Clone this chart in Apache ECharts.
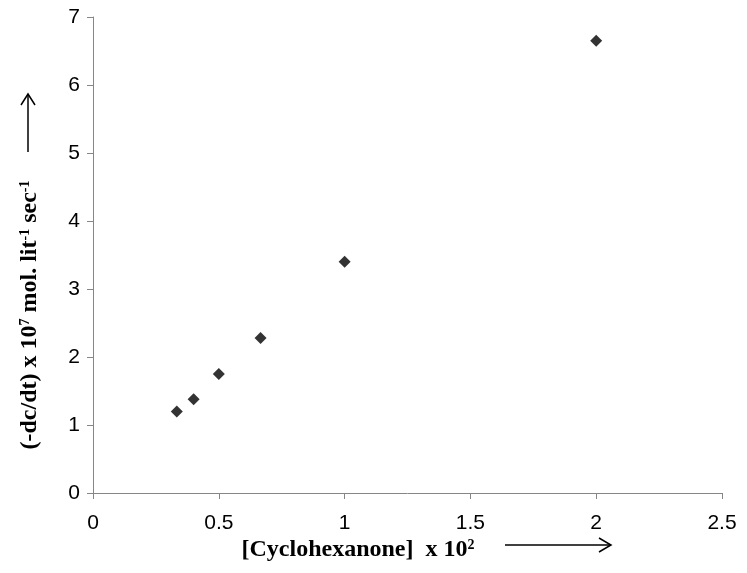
<!DOCTYPE html>
<html>
<head>
<meta charset="utf-8">
<script src="https://cdn.jsdelivr.net/npm/echarts@6/dist/echarts.min.js"></script>
<style>
  html, body { margin: 0; padding: 0; background: #fff; }
  #chart { width: 747px; height: 573px; }
</style>
</head>
<body>
<div id="chart"></div>
<script>
// concentration of cyclohexanone (x 10^2)
const conc = [0.333, 0.4, 0.5, 0.666, 1.0, 2.0]
// rate (-dc/dt) x 10^7
const rate = [1.2, 1.38, 1.75, 2.28, 3.4, 6.65]
const xTicks = [0, 0.5, 1, 1.5, 2, 2.5]
const yTicks = [0, 1, 2, 3, 4, 5, 6, 7]

const chart = echarts.init(document.getElementById('chart'))

const axisColor = '#868686'
const labelFont = { color: '#000', fontFamily: 'Liberation Sans, Arial', fontSize: 21 }
const titleFont = 'Liberation Serif, Times New Roman'
const supStyle = { fontSize: 14, fontWeight: 'bold', fontFamily: titleFont, verticalAlign: 'top', lineHeight: 24 }

const option = {
  animation: false,
  grid: { left: 93, right: 25, top: 17, bottom: 80 },
  xAxis: {
    type: 'value',
    min: xTicks[0],
    max: xTicks[xTicks.length - 1],
    interval: 0.5,
    axisLine: { lineStyle: { color: axisColor, width: 1 } },
    axisTick: { show: true, length: 6, lineStyle: { color: axisColor } },
    splitLine: { show: false },
    axisLabel: { ...labelFont, margin: 20 }
  },
  yAxis: {
    type: 'value',
    min: yTicks[0],
    max: yTicks[yTicks.length - 1],
    interval: 1,
    axisLine: { show: true, lineStyle: { color: axisColor, width: 1 } },
    axisTick: { show: true, length: 6, lineStyle: { color: axisColor } },
    splitLine: { show: false },
    axisLabel: { ...labelFont, margin: 13 }
  },
  series: [{
    type: 'scatter',
    symbol: 'diamond',
    symbolSize: 12,
    itemStyle: { color: '#000' },
    data: conc.map((c, i) => [c, rate[i]])
  }],
  graphic: [
    // y axis title
    {
      type: 'text',
      x: 30,
      y: 315,
      rotation: Math.PI / 2,
      style: {
        text: '(-dc/dt) x 10{sup|7} mol. lit{sup|-1} sec{sup|-1}',
        font: 'bold 24px ' + titleFont,
        fill: '#000',
        align: 'center',
        verticalAlign: 'middle',
        rich: { sup: supStyle }
      }
    },
    // y arrow
    {
      type: 'group',
      x: 28,
      y: 0,
      children: [
        { type: 'line', shape: { x1: 0, y1: 152, x2: 0, y2: 94 }, style: { stroke: '#000', lineWidth: 1.5 } },
        { type: 'polyline', shape: { points: [[-7, 105], [0, 94], [7, 105]] }, style: { stroke: '#000', lineWidth: 1.5, fill: null } }
      ]
    },
    // x axis title
    {
      type: 'text',
      x: 358,
      y: 550,
      style: {
        text: '[Cyclohexanone]  x 10{sup|2}',
        font: 'bold 24px ' + titleFont,
        fill: '#000',
        align: 'center',
        verticalAlign: 'middle',
        rich: { sup: supStyle }
      }
    },
    // x arrow
    {
      type: 'group',
      x: 0,
      y: 545,
      children: [
        { type: 'line', shape: { x1: 505, y1: 0, x2: 611, y2: 0 }, style: { stroke: '#000', lineWidth: 1.5 } },
        { type: 'polyline', shape: { points: [[599, -7], [611, 0], [599, 7]] }, style: { stroke: '#000', lineWidth: 1.5, fill: null } }
      ]
    }
  ]
}

chart.setOption(option)
</script>
</body>
</html>
